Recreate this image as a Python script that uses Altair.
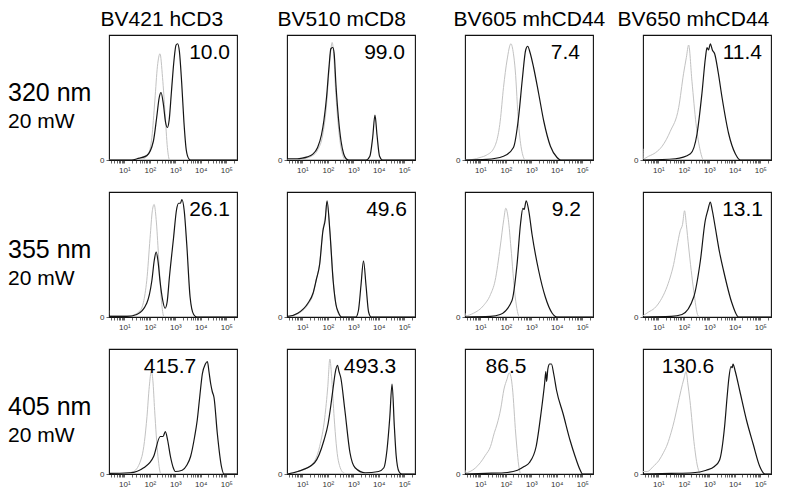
import altair as alt
import pandas as pd

# ---------------- data ----------------
COLUMN_TITLES = ["BV421 hCD3", "BV510 mCD8", "BV605 mhCD44", "BV650 mhCD44"]
ROW_WAVELENGTHS = ["320 nm", "355 nm", "405 nm"]
ROW_POWERS = ["20 mW", "20 mW", "20 mW"]
PANEL_VALUES_ROW1 = ["10.0", "99.0", "7.4", "11.4"]
PANEL_VALUES_ROW2 = ["26.1", "49.6", "9.2", "13.1"]
PANEL_VALUES_ROW3 = ["415.7", "493.3", "86.5", "130.6"]
TICK_VALUES = [10, 100, 1000, 10000, 100000]
TICK_LABELS = ["10\u00b9", "10\u00b2", "10\u00b3", "10\u2074", "10\u2075"]

# x in log10(intensity), y as fraction of the panel's maximum
R1C1_GRAY_LOG = [0.4, 1.5, 1.75, 1.95, 2.08, 2.2, 2.3, 2.4, 2.5, 2.6, 2.69, 2.78, 5.42]
R1C1_GRAY_Y = [0, 0, 0.01, 0.05, 0.18, 0.48, 0.75, 0.85, 0.66, 0.37, 0.1, 0.0, 0]
R1C1_BLACK_LOG = [0.4, 1.3, 1.5, 1.88, 2.14, 2.27, 2.37, 2.44, 2.53, 2.62, 2.69, 2.76, 2.85, 2.95, 3.03, 3.09, 3.16, 3.25, 3.34, 3.43, 3.53, 3.6, 5.42]
R1C1_BLACK_Y = [0, 0, 0.01, 0.035, 0.15, 0.34, 0.5, 0.54, 0.45, 0.3, 0.26, 0.32, 0.55, 0.8, 0.92, 0.93, 0.87, 0.62, 0.3, 0.08, 0.01, 0, 0]

R1C2_GRAY_LOG = [0.4, 1.0, 1.4, 1.6, 1.8, 1.95, 2.05, 2.12, 2.17, 2.23, 2.3, 2.4, 2.5, 2.6, 2.7, 5.42]
R1C2_GRAY_Y = [0, 0.01, 0.035, 0.08, 0.2, 0.44, 0.72, 0.88, 0.94, 0.85, 0.58, 0.3, 0.12, 0.03, 0, 0]
R1C2_BLACK_LOG = [0.4, 0.41, 0.8, 1.0, 1.2, 1.4, 1.6, 1.75, 1.85, 1.95, 2.05, 2.12, 2.2, 2.25, 2.32, 2.42, 2.52, 2.62, 2.72, 2.82, 3.5, 3.65, 3.76, 3.85, 3.93, 4.03, 4.15, 5.42]
R1C2_BLACK_Y = [0.51, 0.01, 0.01, 0.015, 0.025, 0.045, 0.1, 0.2, 0.32, 0.5, 0.75, 0.89, 0.9, 0.85, 0.6, 0.33, 0.15, 0.05, 0.01, 0, 0, 0.03, 0.18, 0.36, 0.2, 0.03, 0, 0]

R1C3_GRAY_LOG = [0.4, 0.7, 0.99, 1.25, 1.52, 1.78, 1.91, 2.05, 2.2, 2.3, 2.37, 2.5, 2.63, 2.77, 5.42]
R1C3_GRAY_Y = [0, 0.005, 0.02, 0.04, 0.09, 0.31, 0.58, 0.8, 0.93, 0.85, 0.72, 0.29, 0.07, 0, 0]
R1C3_BLACK_LOG = [0.4, 1.25, 1.91, 2.3, 2.5, 2.65, 2.78, 2.86, 2.95, 3.09, 3.29, 3.49, 3.75, 4.01, 4.15, 5.42]
R1C3_BLACK_Y = [0, 0.005, 0.03, 0.1, 0.34, 0.65, 0.88, 0.91, 0.86, 0.74, 0.53, 0.31, 0.11, 0.02, 0, 0]

R1C4_GRAY_LOG = [0.4, 0.41, 0.62, 0.9, 1.15, 1.47, 1.8, 1.99, 2.1, 2.19, 2.32, 2.48, 2.65, 2.78, 5.42]
R1C4_GRAY_Y = [0.09, 0.01, 0.03, 0.06, 0.11, 0.23, 0.42, 0.69, 0.82, 0.92, 0.63, 0.29, 0.07, 0, 0]
R1C4_BLACK_LOG = [0.4, 1.67, 2.26, 2.52, 2.71, 2.85, 2.91, 2.97, 3.04, 3.12, 3.21, 3.35, 3.5, 3.76, 4.02, 4.22, 5.42]
R1C4_BLACK_Y = [0, 0.01, 0.05, 0.21, 0.53, 0.82, 0.9, 0.88, 0.93, 0.88, 0.85, 0.7, 0.5, 0.21, 0.05, 0, 0]

R2C1_GRAY_LOG = [0.4, 0.42, 1.23, 1.62, 1.88, 2.01, 2.1, 2.17, 2.25, 2.34, 2.47, 2.56, 5.42]
R2C1_GRAY_Y = [0.05, 0.01, 0.01, 0.05, 0.29, 0.63, 0.85, 0.9, 0.78, 0.5, 0.1, 0, 0]
R2C1_BLACK_LOG = [0.4, 0.42, 1.1, 1.49, 1.88, 2.08, 2.18, 2.25, 2.32, 2.4, 2.5, 2.6, 2.68, 2.77, 2.93, 3.05, 3.13, 3.2, 3.26, 3.35, 3.45, 3.58, 3.72, 3.85, 5.42]
R2C1_BLACK_Y = [0.05, 0.005, 0.005, 0.02, 0.11, 0.29, 0.46, 0.52, 0.45, 0.29, 0.14, 0.07, 0.12, 0.32, 0.63, 0.86, 0.91, 0.91, 0.94, 0.85, 0.58, 0.16, 0.02, 0, 0]

R2C2_GRAY_LOG = [0.4, 0.82, 1.22, 1.42, 1.55, 1.68, 1.81, 1.9, 1.97, 2.08, 2.21, 2.32, 2.41, 2.54, 5.42]
R2C2_GRAY_Y = [0, 0.025, 0.1, 0.18, 0.3, 0.43, 0.7, 0.8, 0.92, 0.7, 0.3, 0.1, 0.03, 0, 0]
R2C2_BLACK_LOG = [0.4, 0.42, 0.82, 1.22, 1.42, 1.55, 1.68, 1.81, 1.9, 1.97, 2.08, 2.21, 2.32, 2.41, 2.54, 3.1, 3.2, 3.3, 3.4, 3.5, 3.6, 3.7, 5.42]
R2C2_BLACK_Y = [0.03, 0.005, 0.03, 0.11, 0.19, 0.3, 0.42, 0.69, 0.78, 0.93, 0.69, 0.29, 0.1, 0.04, 0, 0, 0.05, 0.25, 0.45, 0.25, 0.04, 0, 0]

R2C3_GRAY_LOG = [0.4, 0.42, 0.73, 1.12, 1.4, 1.58, 1.78, 1.92, 2.0, 2.1, 2.2, 2.37, 2.54, 5.42]
R2C3_GRAY_Y = [0.03, 0.01, 0.03, 0.09, 0.18, 0.29, 0.56, 0.78, 0.87, 0.78, 0.56, 0.16, 0, 0]
R2C3_BLACK_LOG = [0.4, 1.4, 1.78, 2.24, 2.44, 2.58, 2.67, 2.72, 2.8, 2.9, 3.03, 3.29, 3.55, 3.82, 4.01, 5.42]
R2C3_BLACK_Y = [0, 0.005, 0.02, 0.13, 0.42, 0.75, 0.87, 0.86, 0.93, 0.85, 0.66, 0.37, 0.16, 0.03, 0, 0]

R2C4_GRAY_LOG = [0.4, 0.62, 0.85, 1.08, 1.3, 1.47, 1.6, 1.73, 1.86, 1.95, 2.03, 2.1, 2.19, 2.39, 2.56, 2.65, 5.42]
R2C4_GRAY_Y = [0.01, 0.04, 0.07, 0.13, 0.22, 0.32, 0.42, 0.56, 0.69, 0.74, 0.85, 0.74, 0.56, 0.21, 0.01, 0, 0]
R2C4_BLACK_LOG = [0.4, 1.5, 1.93, 2.39, 2.65, 2.84, 2.95, 3.04, 3.12, 3.24, 3.4, 3.56, 3.89, 4.15, 5.42]
R2C4_BLACK_Y = [0, 0.005, 0.02, 0.16, 0.45, 0.77, 0.86, 0.92, 0.85, 0.71, 0.52, 0.37, 0.11, 0, 0]

R3C1_GRAY_LOG = [0.4, 1.0, 1.36, 1.69, 1.89, 1.98, 2.06, 2.12, 2.19, 2.32, 2.44, 5.42]
R3C1_GRAY_Y = [0, 0.005, 0.02, 0.14, 0.46, 0.7, 0.82, 0.75, 0.51, 0.14, 0, 0]
R3C1_BLACK_LOG = [0.4, 0.42, 1.23, 1.76, 2.15, 2.41, 2.52, 2.61, 2.7, 2.81, 2.92, 3.0, 3.27, 3.45, 3.6, 3.76, 3.86, 3.96, 4.06, 4.18, 4.26, 4.32, 4.39, 4.45, 4.52, 4.65, 4.81, 4.91, 5.42]
R3C1_BLACK_Y = [0.03, 0.005, 0.01, 0.05, 0.14, 0.3, 0.3, 0.34, 0.27, 0.14, 0.05, 0.02, 0.03, 0.07, 0.14, 0.3, 0.43, 0.62, 0.8, 0.88, 0.9, 0.82, 0.72, 0.66, 0.61, 0.32, 0.06, 0, 0]

R3C2_GRAY_LOG = [0.4, 0.82, 1.35, 1.68, 1.88, 2.0, 2.08, 2.16, 2.25, 2.41, 2.61, 2.75, 5.42]
R3C2_GRAY_Y = [0, 0.02, 0.07, 0.22, 0.45, 0.7, 0.92, 0.75, 0.45, 0.11, 0.01, 0, 0]
R3C2_BLACK_LOG = [0.4, 0.82, 1.48, 1.85, 2.01, 2.12, 2.21, 2.3, 2.38, 2.44, 2.51, 2.67, 2.87, 3.07, 3.46, 3.99, 4.2, 4.32, 4.43, 4.52, 4.61, 4.68, 4.79, 4.9, 5.42]
R3C2_BLACK_Y = [0, 0.02, 0.09, 0.27, 0.4, 0.55, 0.69, 0.82, 0.87, 0.82, 0.77, 0.51, 0.17, 0.05, 0.01, 0.02, 0.05, 0.19, 0.45, 0.72, 0.38, 0.15, 0.02, 0, 0]

R3C3_GRAY_LOG = [0.4, 0.42, 0.6, 1.0, 1.2, 1.4, 1.55, 1.66, 1.8, 1.93, 2.05, 2.13, 2.2, 2.26, 2.39, 2.52, 2.59, 5.42]
R3C3_GRAY_Y = [0.03, 0.01, 0.02, 0.09, 0.15, 0.22, 0.33, 0.4, 0.52, 0.68, 0.76, 0.81, 0.78, 0.69, 0.32, 0.05, 0, 0]
R3C3_BLACK_LOG = [0.4, 1.2, 1.93, 2.46, 2.72, 2.92, 3.19, 3.39, 3.52, 3.57, 3.6, 3.65, 3.72, 3.79, 3.88, 3.99, 4.25, 4.52, 4.72, 4.92, 5.01, 5.42]
R3C3_BLACK_Y = [0, 0.005, 0.01, 0.03, 0.06, 0.09, 0.22, 0.5, 0.72, 0.82, 0.74, 0.84, 0.88, 0.88, 0.8, 0.67, 0.48, 0.27, 0.14, 0.03, 0, 0]

R3C4_GRAY_LOG = [0.4, 0.57, 0.8, 1.03, 1.2, 1.36, 1.5, 1.63, 1.76, 1.89, 2.0, 2.09, 2.16, 2.24, 2.42, 2.55, 2.68, 5.42]
R3C4_GRAY_Y = [0.02, 0.02, 0.06, 0.11, 0.17, 0.24, 0.33, 0.43, 0.55, 0.67, 0.76, 0.82, 0.72, 0.59, 0.22, 0.05, 0, 0]
R3C4_BLACK_LOG = [0.4, 1.5, 2.35, 2.88, 3.2, 3.4, 3.6, 3.7, 3.77, 3.85, 3.9, 3.93, 4.02, 4.19, 4.46, 4.72, 4.98, 5.18, 5.42]
R3C4_BLACK_Y = [0, 0.005, 0.01, 0.03, 0.06, 0.11, 0.38, 0.62, 0.77, 0.86, 0.85, 0.88, 0.82, 0.67, 0.43, 0.24, 0.06, 0, 0]

# ---------------- layout / style settings ----------------
FONT = "Liberation Sans"
PANEL_W = 128
PANEL_H = 125
COL_SPACING = 50
ROW_SPACING = 32
LABEL_W = 51
GRAY = "#c2c2c2"
BLACK = "#151515"
DOMAIN_LO = 10 ** 0.4
DOMAIN_HI = 10 ** 5.42
# (x pixel inside panel, alignment) for the number in each panel
ANNOT_POS = [
    [(121, "right"), (118, "right"), (115, "right"), (119, "right")],
    [(121, "right"), (120, "right"), (116, "right"), (120, "right")],
    [(61, "center"), (83, "center"), (41, "center"), (45, "center")],
]
TITLE_DX = [1, 0, -2, -16]

CURVES = [
    [(R1C1_GRAY_LOG, R1C1_GRAY_Y, R1C1_BLACK_LOG, R1C1_BLACK_Y),
     (R1C2_GRAY_LOG, R1C2_GRAY_Y, R1C2_BLACK_LOG, R1C2_BLACK_Y),
     (R1C3_GRAY_LOG, R1C3_GRAY_Y, R1C3_BLACK_LOG, R1C3_BLACK_Y),
     (R1C4_GRAY_LOG, R1C4_GRAY_Y, R1C4_BLACK_LOG, R1C4_BLACK_Y)],
    [(R2C1_GRAY_LOG, R2C1_GRAY_Y, R2C1_BLACK_LOG, R2C1_BLACK_Y),
     (R2C2_GRAY_LOG, R2C2_GRAY_Y, R2C2_BLACK_LOG, R2C2_BLACK_Y),
     (R2C3_GRAY_LOG, R2C3_GRAY_Y, R2C3_BLACK_LOG, R2C3_BLACK_Y),
     (R2C4_GRAY_LOG, R2C4_GRAY_Y, R2C4_BLACK_LOG, R2C4_BLACK_Y)],
    [(R3C1_GRAY_LOG, R3C1_GRAY_Y, R3C1_BLACK_LOG, R3C1_BLACK_Y),
     (R3C2_GRAY_LOG, R3C2_GRAY_Y, R3C2_BLACK_LOG, R3C2_BLACK_Y),
     (R3C3_GRAY_LOG, R3C3_GRAY_Y, R3C3_BLACK_LOG, R3C3_BLACK_Y),
     (R3C4_GRAY_LOG, R3C4_GRAY_Y, R3C4_BLACK_LOG, R3C4_BLACK_Y)],
]
VALUES = [PANEL_VALUES_ROW1, PANEL_VALUES_ROW2, PANEL_VALUES_ROW3]

# all (major + minor) tick positions of the log axis
all_ticks = []
for n in range(0, 6):
    for k in range(1, 10):
        v = k * 10 ** n
        if DOMAIN_LO <= v <= DOMAIN_HI:
            all_ticks.append(v)

label_expr = " : ".join(
    f"datum.value == {v} ? '{l}'" for v, l in zip(TICK_VALUES, TICK_LABELS)
) + " : ''"

x_scale = alt.Scale(type="log", domain=[DOMAIN_LO, DOMAIN_HI], nice=False)
y_scale = alt.Scale(domain=[0, 1], nice=False)

x_axis = alt.Axis(
    values=all_ticks, labelExpr=label_expr, title=None, grid=False, domain=False,
    tickSize=3, tickWidth=0.7, tickColor="#222", labelFont=FONT, labelFontSize=8,
    labelColor="#333", labelPadding=3, labelOverlap=False, labelFlush=False,
)
y_axis = alt.Axis(
    values=[0], title=None, grid=False, domain=False, tickSize=3, tickWidth=0.7,
    tickColor="#222", labelFont=FONT, labelFontSize=8, labelColor="#333", labelPadding=2,
)


def curve_frame(logs, ys):
    return pd.DataFrame({"x": [10 ** v for v in logs], "y": ys, "i": list(range(len(logs)))})


def panel(r, c):
    g_log, g_y, b_log, b_y = CURVES[r][c]
    gray = alt.Chart(curve_frame(g_log, g_y)).mark_line(
        color=GRAY, strokeWidth=1.0, interpolate="monotone", clip=True
    ).encode(
        x=alt.X("x:Q", scale=x_scale, axis=x_axis),
        y=alt.Y("y:Q", scale=y_scale, axis=y_axis),
        order="i:Q",
    )
    black = alt.Chart(curve_frame(b_log, b_y)).mark_line(
        color=BLACK, strokeWidth=1.2, interpolate="monotone", clip=True
    ).encode(
        x=alt.X("x:Q", scale=x_scale, axis=x_axis),
        y=alt.Y("y:Q", scale=y_scale, axis=y_axis),
        order="i:Q",
    )
    px, align = ANNOT_POS[r][c]
    label = alt.Chart(pd.DataFrame({"t": [VALUES[r][c]]})).mark_text(
        font=FONT, fontSize=21, align=align, baseline="middle", color="#000"
    ).encode(x=alt.value(px), y=alt.value(18), text="t:N")
    props = dict(width=PANEL_W, height=PANEL_H)
    if r == 0:
        props["title"] = alt.TitleParams(
            COLUMN_TITLES[c], font=FONT, fontSize=21, fontWeight="normal",
            anchor="start", offset=5, dx=TITLE_DX[c], color="#000",
        )
    return alt.layer(gray, black, label).properties(**props)


def row_label(r):
    df = pd.DataFrame({"a": [ROW_WAVELENGTHS[r]], "b": [ROW_POWERS[r]]})
    base = alt.Chart(df)
    t1 = base.mark_text(font=FONT, fontSize=25, align="left", baseline="middle", color="#000").encode(
        x=alt.value(0), y=alt.value(58), text="a:N")
    t2 = base.mark_text(font=FONT, fontSize=21, align="left", baseline="middle", color="#000").encode(
        x=alt.value(0), y=alt.value(87), text="b:N")
    return alt.layer(t1, t2).properties(
        width=LABEL_W, height=PANEL_H, view=alt.ViewBackground(strokeOpacity=0)
    )


cells = []
for r in range(3):
    cells.append(row_label(r))
    for c in range(4):
        cells.append(panel(r, c))

chart = alt.concat(
    *cells, columns=5, spacing={"row": ROW_SPACING, "column": COL_SPACING}, bounds="flush"
).properties(
    padding=0, background="white"
).configure(
    font=FONT, view=alt.ViewConfig(stroke="#111", strokeWidth=1.1)
)

chart.save("out.html", embed_options={"renderer": "svg", "actions": False})
